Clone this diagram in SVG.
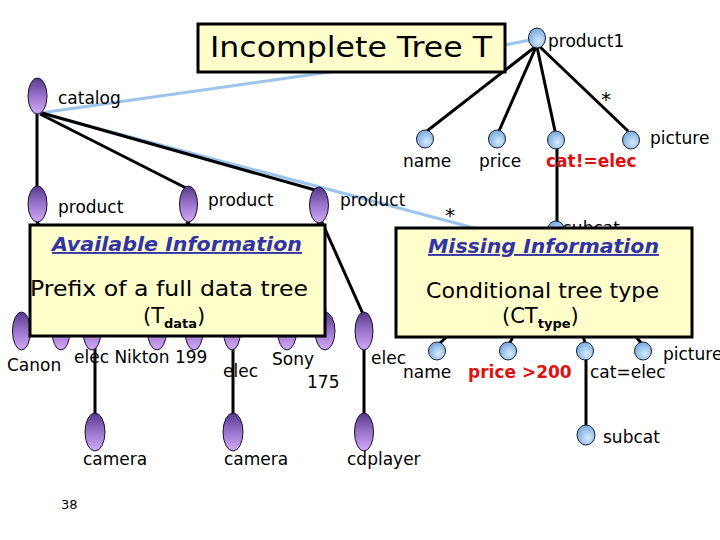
<svg xmlns="http://www.w3.org/2000/svg" width="720" height="540" viewBox="0 0 720 540">
<defs>
<linearGradient id="gp" x1="0" y1="0" x2="0" y2="1">
<stop offset="0" stop-color="#56398a"/>
<stop offset="0.5" stop-color="#9a74cc"/>
<stop offset="1" stop-color="#d2aaf8"/>
</linearGradient>
<radialGradient id="gb" cx="0.6" cy="0.65" r="0.6">
<stop offset="0" stop-color="#d6ebfc"/>
<stop offset="1" stop-color="#7eaee0"/>
</radialGradient>
<style>
.pn{fill:url(#gp);stroke:#1a1030;stroke-width:1}
.bn{fill:url(#gb);stroke:#1a2030;stroke-width:1}
.e{stroke:#000;stroke-width:3;fill:none}
.bl{stroke:#9cc4ec;stroke-width:3;fill:none}
.t{font-family:"DejaVu Sans","Liberation Sans",sans-serif;font-size:17px;fill:#000}
.r{font-family:"DejaVu Sans","Liberation Sans",sans-serif;font-size:17px;font-weight:bold;fill:#e01010}
.box{fill:#ffffcc;stroke:#000;stroke-width:3}
.hd{font-family:"DejaVu Sans","Liberation Sans",sans-serif;font-size:19px;font-weight:bold;font-style:italic;text-decoration:underline;fill:#3333a8}
.bt{font-family:"DejaVu Sans","Liberation Sans",sans-serif;font-size:21px;fill:#000}
.sub{font-size:13px;font-weight:bold}
</style>
</defs>

<g id="connectors">
<line class="bl" x1="40" y1="113" x2="330" y2="72"/>
<line class="bl" x1="40" y1="113" x2="478" y2="229"/>
<line class="bl" x1="505" y1="45" x2="530" y2="40"/>
<line class="e" x1="37" y1="114" x2="37" y2="187"/>
<line class="e" x1="40" y1="114" x2="186" y2="188"/>
<line class="e" x1="42" y1="113" x2="315" y2="190"/>
<line class="e" x1="535" y1="47" x2="427" y2="131"/>
<line class="e" x1="536" y1="47" x2="499" y2="131"/>
<line class="e" x1="537" y1="47" x2="555" y2="131"/>
<line class="e" x1="539" y1="46" x2="628" y2="131"/>
<line class="e" x1="557" y1="144" x2="557" y2="222"/>
<line class="e" x1="557" y1="234" x2="440" y2="343"/>
<line class="e" x1="557" y1="234" x2="510" y2="343"/>
<line class="e" x1="557" y1="234" x2="585" y2="343"/>
<line class="e" x1="557" y1="234" x2="641" y2="343"/>
<line class="e" x1="586" y1="352" x2="586" y2="427"/>
<line class="e" x1="37" y1="222" x2="61" y2="313"/>
<line class="e" x1="37" y1="222" x2="92" y2="313"/>
<line class="e" x1="188" y1="222" x2="157" y2="313"/>
<line class="e" x1="188" y1="222" x2="194" y2="313"/>
<line class="e" x1="188" y1="222" x2="232" y2="313"/>
<line class="e" x1="319" y1="222" x2="287" y2="313"/>
<line class="e" x1="319" y1="222" x2="325" y2="313"/>
<line class="e" x1="321" y1="220" x2="363" y2="314"/>
<line class="e" x1="95" y1="345" x2="95" y2="414"/>
<line class="e" x1="233" y1="345" x2="233" y2="414"/>
<line class="e" x1="364" y1="345" x2="364" y2="414"/>
</g>

<g id="catalog"><ellipse class="pn" cx="37.5" cy="96" rx="9.5" ry="18"/><text class="t" x="58" y="104">catalog</text></g>
<g id="product-a"><ellipse class="pn" cx="37.5" cy="204" rx="9.5" ry="18"/><text class="t" x="58" y="213">product</text></g>
<g id="product-b"><ellipse class="pn" cx="188.5" cy="204" rx="9" ry="18"/><text class="t" x="208" y="206">product</text></g>
<g id="product-c"><ellipse class="pn" cx="319" cy="205" rx="9.5" ry="18"/><text class="t" x="340" y="206">product</text></g>

<g id="product1"><ellipse class="bn" cx="537" cy="38" rx="8.5" ry="10"/><text class="t" x="548" y="47">product1</text></g>
<g id="name1"><ellipse class="bn" cx="425" cy="139" rx="8.5" ry="9"/><text class="t" x="403" y="167">name</text></g>
<g id="price1"><ellipse class="bn" cx="497" cy="139" rx="8.5" ry="9"/><text class="t" x="479" y="167">price</text></g>
<g id="cat1"><ellipse class="bn" cx="556" cy="140" rx="8.5" ry="9"/><text class="r" x="546" y="167">cat!=elec</text></g>
<g id="picture1"><ellipse class="bn" cx="631" cy="140" rx="8.5" ry="9"/><text class="t" x="650" y="144">picture</text></g>
<text class="t" x="601" y="106" style="font-size:20px">*</text>
<text class="t" x="445" y="222" style="font-size:20px">*</text>
<g id="subcat1"><ellipse class="bn" cx="556" cy="230" rx="8.5" ry="9"/><text class="t" x="563" y="234">subcat</text></g>

<g id="canon"><ellipse class="pn" cx="21.5" cy="331" rx="9" ry="19"/><text class="t" x="7" y="371">Canon</text></g>
<g id="elec-a"><ellipse class="pn" cx="61" cy="331" rx="9" ry="19"/></g>
<g id="nikton"><ellipse class="pn" cx="92" cy="331" rx="9" ry="19"/><text class="t" x="74" y="363">elec Nikton 199</text></g>
<g id="n157"><ellipse class="pn" cx="157" cy="331" rx="9.5" ry="19"/></g>
<g id="n194"><ellipse class="pn" cx="194" cy="331" rx="9" ry="19"/></g>
<g id="elec-b"><ellipse class="pn" cx="232" cy="331" rx="8.5" ry="19"/><text class="t" x="223" y="377">elec</text></g>
<g id="sony"><ellipse class="pn" cx="287" cy="331" rx="9.5" ry="19"/><text class="t" x="272" y="365">Sony</text></g>
<g id="n175"><ellipse class="pn" cx="325" cy="331" rx="10" ry="19"/><text class="t" x="307" y="388">175</text></g>
<g id="elec-c"><ellipse class="pn" cx="364" cy="331" rx="9" ry="19"/><text class="t" x="371" y="364">elec</text></g>
<g id="camera-a"><ellipse class="pn" cx="95" cy="432" rx="10" ry="19"/><text class="t" x="83" y="465">camera</text></g>
<g id="camera-b"><ellipse class="pn" cx="233" cy="432" rx="10" ry="19"/><text class="t" x="224" y="465">camera</text></g>
<g id="cdplayer"><ellipse class="pn" cx="364" cy="432" rx="9.5" ry="19"/><text class="t" x="347" y="465">cdplayer</text></g>

<g id="name2"><ellipse class="bn" cx="437" cy="351" rx="8.5" ry="9"/><text class="t" x="403" y="378">name</text></g>
<g id="price2"><ellipse class="bn" cx="508" cy="351" rx="8.5" ry="9"/><text class="r" x="468" y="378">price &gt;200</text></g>
<g id="cat2"><ellipse class="bn" cx="585" cy="351" rx="8.5" ry="9"/><text class="t" x="590" y="378">cat=elec</text></g>
<g id="picture2"><ellipse class="bn" cx="643" cy="351" rx="8.5" ry="9"/><text class="t" x="663" y="360">picture</text></g>
<g id="subcat2"><ellipse class="bn" cx="586" cy="435" rx="9" ry="10"/><text class="t" x="603" y="443">subcat</text></g>

<g id="title"><rect class="box" x="198" y="24" width="307" height="48"/><text class="bt" x="210" y="57" style="font-size:28px" textLength="282" lengthAdjust="spacingAndGlyphs">Incomplete Tree T</text></g>

<g id="available"><rect class="box" x="30" y="225" width="295" height="111"/>
<text class="hd" x="52" y="251" textLength="250" lengthAdjust="spacingAndGlyphs">Available Information</text>
<text class="bt" x="30" y="296" textLength="278" lengthAdjust="spacingAndGlyphs">Prefix of a full data tree</text>
<text class="bt" x="143" y="323">(T<tspan class="sub" dy="5">data</tspan><tspan dy="-5">)</tspan></text>
</g>

<g id="missing"><rect class="box" x="396" y="228" width="296" height="109"/>
<text class="hd" x="428" y="253" textLength="231" lengthAdjust="spacingAndGlyphs">Missing Information</text>
<text class="bt" x="426" y="298" textLength="233" lengthAdjust="spacingAndGlyphs">Conditional tree type</text>
<text class="bt" x="502" y="323">(CT<tspan class="sub" dy="5">type</tspan><tspan dy="-5">)</tspan></text>
</g>

<text class="t" x="61" y="509" style="font-size:13px">38</text>
</svg>
